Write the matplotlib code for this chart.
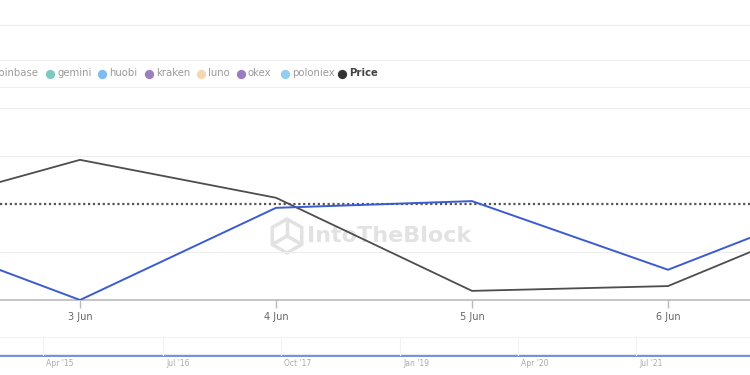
import matplotlib
matplotlib.use("Agg")
import matplotlib.pyplot as plt
import numpy as np
from matplotlib.patches import RegularPolygon

# ---- data ----
days = [2, 3, 4, 5, 6, 7]                      # June day numbers
day_labels = ["2 Jun", "3 Jun", "4 Jun", "5 Jun", "6 Jun", "7 Jun"]
flow = [1.53, 0.00, 1.92, 2.06, 0.63, 2.22]    # blue series
price = [1.79, 2.92, 2.13, 0.19, 0.29, 1.98]   # Price series
ref_level = 2.0                                # dotted reference line
legend_names = ["coinbase", "gemini", "huobi", "kraken", "luno", "okex", "poloniex", "Price"]
legend_colors = ["#5f8fd6", "#7ec8c0", "#7dbcf0", "#9c7fc0", "#f6d6b2", "#9a7cc0", "#92cdf2", "#333333"]
nav_labels = ["Apr '15", "Jul '16", "Oct '17", "Jan '19", "Apr '20", "Jul '21"]

W, H = 750, 375
fig = plt.figure(figsize=(7.5, 3.75), dpi=100)
fig.patch.set_facecolor("white")

# overlay axes in pixel coords for decorations
ov = fig.add_axes([0, 0, 1, 1])
ov.set_xlim(0, W)
ov.set_ylim(H, 0)
ov.axis("off")
ov.set_zorder(0)

# main axes: bottom at y=300px, top at y=0
ax = fig.add_axes([0, 75 / H, 1, 300 / H])
ax.set_zorder(2)
ax.patch.set_alpha(0)

for g in [1, 3, 4]:
    ax.axhline(g, color="#eeeeee", lw=0.8, zorder=1)
ax.axhline(ref_level, color="#555555", lw=1.6, ls=(0, (1, 1.2)), zorder=2)

ax.plot(days, price, color="#4d4d4d", lw=1.3, zorder=3)
ax.plot(days, flow, color="#3b5bd1", lw=1.4, zorder=4)

for s in ["top", "right", "left"]:
    ax.spines[s].set_visible(False)
ax.spines["bottom"].set_color("#bbbbbb")
ax.spines["bottom"].set_linewidth(1.2)
ax.set_yticks([])
ax.set_xticks(days)
ax.set_xticklabels(day_labels)
ax.tick_params(axis="x", colors="#bbbbbb", length=6, width=1, labelsize=7, labelcolor="#666666", pad=3)

px_per_day = 196.0
x0 = 3 - 80 / px_per_day
ax.set_xlim(x0, x0 + W / px_per_day)
ax.set_ylim(0, 300 / 48.0)

# top lines / legend box
ov.plot([0, W], [25, 25], color="#ececec", lw=0.8)
ov.plot([0, W], [60, 60], color="#efefef", lw=0.8)
ov.plot([0, W], [87, 87], color="#efefef", lw=0.8)

# legend
marker_x = [-14, 50, 102, 149, 201, 241, 285, 342]
for name, col, mx in zip(legend_names, legend_colors, marker_x):
    ov.scatter([mx], [73.5], s=32, color=col, zorder=3, clip_on=True)
    is_price = name == "Price"
    ov.text(mx + 7, 73.5, name, fontsize=7.3, color="#444444" if is_price else "#9a9a9a",
            va="center", ha="left", family="DejaVu Sans",
            fontweight="semibold" if is_price else "normal")

# watermark
ov.text(307, 236, "IntoTheBlock", fontsize=16, fontweight="bold", color="#e2e2e2",
        ha="left", va="center", zorder=1, family="DejaVu Sans")
hexp = RegularPolygon((287, 236), numVertices=6, radius=17, orientation=0,
                      fill=False, ec="#e2e2e2", lw=2.5, zorder=1)
ov.add_patch(hexp)
for ang in [90, 210, 330]:
    a = np.deg2rad(ang)
    ov.plot([287, 287 + 16 * np.cos(a)], [236, 236 - 16 * np.sin(a)], color="#e2e2e2", lw=2.5, zorder=1)

# navigator
ov.plot([0, W], [337, 337], color="#f2f2f2", lw=0.8)
ov.plot([0, W], [355.5, 355.5], color="#5b7bd8", lw=1.2)
ov.plot([0, W], [354, 354], color="#dde3f4", lw=0.6)
nav_x = [43, 163, 281, 400, 518, 636]
for lab, nx in zip(nav_labels, nav_x):
    ov.plot([nx, nx], [337, 355], color="#f2f2f2", lw=0.8)
    ov.text(nx + 3, 363, lab, fontsize=5.5, color="#aaaaaa", ha="left", va="center")

fig.savefig("out.png", dpi=100, facecolor="white")
